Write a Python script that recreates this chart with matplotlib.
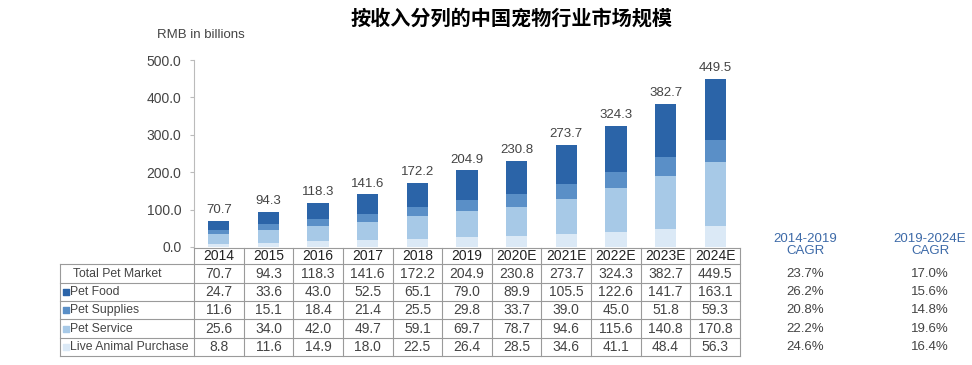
import matplotlib.pyplot as plt
import numpy as np

years = ["2014", "2015", "2016", "2017", "2018", "2019",
         "2020E", "2021E", "2022E", "2023E", "2024E"]
total = [70.7, 94.3, 118.3, 141.6, 172.2, 204.9, 230.8, 273.7, 324.3, 382.7, 449.5]
pet_food = [24.7, 33.6, 43.0, 52.5, 65.1, 79.0, 89.9, 105.5, 122.6, 141.7, 163.1]
pet_supplies = [11.6, 15.1, 18.4, 21.4, 25.5, 29.8, 33.7, 39.0, 45.0, 51.8, 59.3]
pet_service = [25.6, 34.0, 42.0, 49.7, 59.1, 69.7, 78.7, 94.6, 115.6, 140.8, 170.8]
live_animal = [8.8, 11.6, 14.9, 18.0, 22.5, 26.4, 28.5, 34.6, 41.1, 48.4, 56.3]
cagr_1419 = ["23.7%", "26.2%", "20.8%", "22.2%", "24.6%"]
cagr_1924 = ["17.0%", "15.6%", "14.8%", "19.6%", "16.4%"]
row_names = ["Total Pet Market", "Pet Food", "Pet Supplies", "Pet Service", "Live Animal Purchase"]

c_food = "#2b64a8"
c_supp = "#5a8fc7"
c_serv = "#a7c9e7"
c_live = "#dbe9f6"
row_colors = [None, c_food, c_supp, c_serv, c_live]
txt = "#444444"
grid_c = "#9a9a9a"

plt.rcParams['font.family'] = ['Liberation Sans', 'DejaVu Sans']

W, H = 972, 365
fig = plt.figure(figsize=(W / 100, H / 100), dpi=100)

# bar axes
x0, x1 = 194, 740
y0, y1 = 247, 60
ax = fig.add_axes([x0 / W, 1 - y0 / H, (x1 - x0) / W, (y0 - y1) / H])
x = np.arange(len(years))
bw = 0.43
bottom = np.zeros(len(years))
for vals, col in [(live_animal, c_live), (pet_service, c_serv),
                  (pet_supplies, c_supp), (pet_food, c_food)]:
    ax.bar(x, vals, bw, bottom=bottom, color=col, linewidth=0)
    bottom += np.array(vals)
for xi, t in zip(x, total):
    ax.text(xi, t + 12, f"{t:.1f}", ha="center", va="bottom", fontsize=9.5, color=txt, clip_on=False)
ax.set_xlim(-0.5, len(years) - 0.5)
ax.set_ylim(0, 500)
ax.set_yticks([0, 100, 200, 300, 400, 500])
ax.set_yticklabels([f"{v:.1f}" for v in [0, 100, 200, 300, 400, 500]], fontsize=10, color=txt)
ax.tick_params(axis="y", length=3, color="#bbbbbb", pad=6)
ax.set_xticks([])
for s in ["top", "right", "bottom"]:
    ax.spines[s].set_visible(False)
ax.spines["left"].set_color("#bbbbbb")
fig.text(201 / W, 1 - 35 / H, "RMB in billions", ha="center", va="center", fontsize=9.5, color=txt)

# table axes
colw = (x1 - x0) / len(years)
tl = 60
tb = 248
tt = 356
tax = fig.add_axes([tl / W, 1 - tt / H, (x1 - tl) / W, (tt - tb) / H])
lab_w = (x0 - tl) / colw
tax.set_xlim(-0.5 - lab_w, len(years) - 0.5)
tax.set_ylim(len(row_names) + 0.9, 0)
tax.axis("off")
hdr = 0.9
# row boundaries
rows_y = [0, hdr] + [hdr + i + 1 for i in range(len(row_names))]
lw = 0.8
tax.plot([-0.5, len(years) - 0.5], [0, 0], color=grid_c, lw=lw, clip_on=False)
for yy in rows_y[1:]:
    tax.plot([-0.5 - lab_w, len(years) - 0.5], [yy, yy], color=grid_c, lw=lw, clip_on=False)
for i in range(len(years) + 1):
    tax.plot([i - 0.5, i - 0.5], [0, rows_y[-1]], color=grid_c, lw=lw, clip_on=False)
tax.plot([-0.5 - lab_w] * 2, [hdr, rows_y[-1]], color=grid_c, lw=lw, clip_on=False)
for i, yr in enumerate(years):
    tax.text(i, hdr / 2, yr, ha="center", va="center", fontsize=10, color="#222222")
table_vals = [total, pet_food, pet_supplies, pet_service, live_animal]
for r, (name, vals, col) in enumerate(zip(row_names, table_vals, row_colors)):
    yc = hdr + r + 0.5
    if col is None:
        tax.text(-0.5 - lab_w + 0.27, yc, name, ha="left", va="center", fontsize=8.8, color=txt)
    else:
        tax.scatter([-0.5 - lab_w + 0.12], [yc], marker="s", s=14, color=col, clip_on=False)
        tax.text(-0.5 - lab_w + 0.2, yc, name, ha="left", va="center", fontsize=8.8, color=txt)
    for i, v in enumerate(vals):
        tax.text(i, yc, f"{v:.1f}", ha="center", va="center", fontsize=10, color=txt)

# CAGR columns
row_h = (tt - tb) / (len(row_names) + 0.9)
blue_t = "#3d6aa8"
for cx, head, vals in [(805, "2014-2019\nCAGR", cagr_1419), (930, "2019-2024E\nCAGR", cagr_1924)]:
    fig.text(cx / W, 1 - 245 / H, head, ha="center", va="center", fontsize=9.5, color=blue_t, linespacing=1.1)
    for r, v in enumerate(vals):
        yc = tb + (hdr + r + 0.5) * row_h
        fig.text(cx / W, 1 - yc / H, v, ha="center", va="center", fontsize=9.5, color=txt)

fig.text(512 / W, 1 - 18 / H, "按收入分列的中国宠物行业市场规模", ha="center", va="center",
         fontsize=14.5, fontweight="bold", family=["Noto Sans CJK SC", "DejaVu Sans"])

fig.savefig("out.png", dpi=100)
